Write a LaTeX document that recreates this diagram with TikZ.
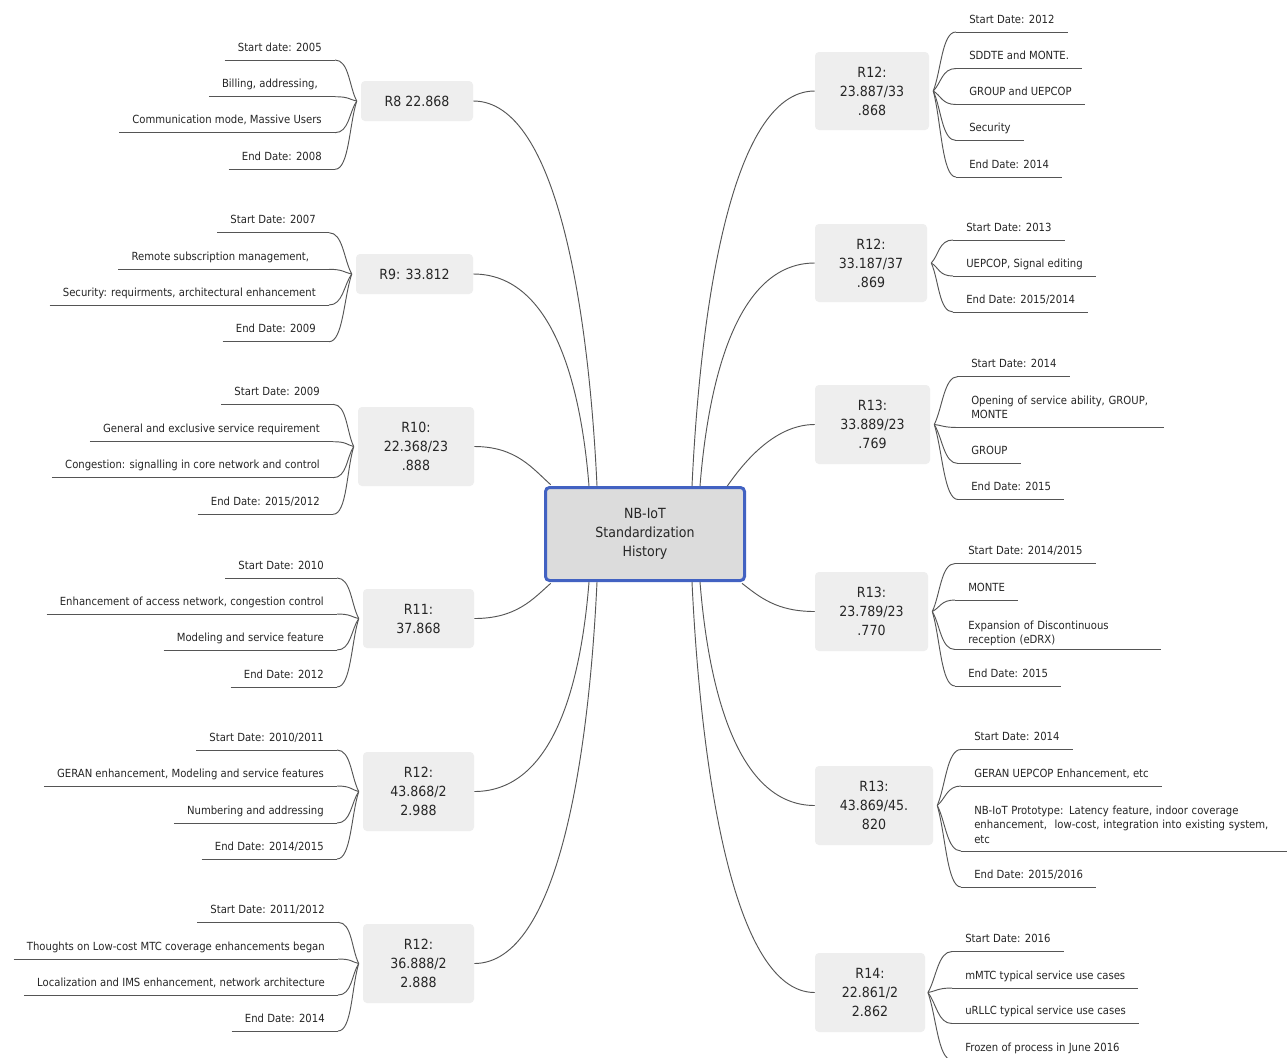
\documentclass[tikz,border=0pt]{standalone}
\usepackage{fontspec}
\setmainfont{DejaVu Sans}[FakeStretch=0.9]
\usetikzlibrary{calc}

\definecolor{hubfill}{HTML}{DCDCDC}
\definecolor{hubline}{HTML}{4262C2}
\definecolor{boxfill}{HTML}{EEEEEE}
\definecolor{ink}{HTML}{262626}
\definecolor{wirecol}{HTML}{555555}

\tikzset{
  hub/.style={draw=hubline, line width=2.25pt, fill=hubfill, rounded corners=3pt,
    minimum width=149.25pt, minimum height=69.75pt, inner sep=0pt, align=center,
    text=ink, font=\fontsize{10.5}{14.25}\selectfont},
  release/.style={fill=boxfill, rounded corners=3pt, inner sep=0pt, align=center,
    text=ink, font=\fontsize{10.5}{14.25}\selectfont},
  leaf/.style={inner xsep=9.75pt, inner ysep=0pt, text=ink,
    font=\fontsize{8.4}{10.9}\selectfont},
  wire/.style={draw=wirecol, line width=0.7pt},
  twig/.style={draw=wirecol, line width=0.7pt},
}

% leaf on the left: name, root, x of the underline's right end, y of the underline, text
\newcommand\leafL[5]{%
  \coordinate (#1e) at (#3,#4);
  \node[leaf, anchor=base east] (#1) at (#3,#4-9) {#5};
  \draw[twig] (#1.west |- #1e) -- (#1e);
  \draw[twig] (#2) .. controls ($(#2)!0.35!(#1e)$) and +(14,0) .. (#1e);
}
% leaf on the right: name, root, x of the underline's left end, y of the underline, text
\newcommand\leafR[5]{%
  \coordinate (#1e) at (#3,#4);
  \node[leaf, anchor=base west] (#1) at (#3,#4-9) {#5};
  \draw[twig] (#1e) -- (#1.east |- #1e);
  \draw[twig] (#2) .. controls ($(#2)!0.35!(#1e)$) and +(-14,0) .. (#1e);
}
% multi-line leaf on the right: name, root, x, y of underline, y of first baseline, width, text
\newcommand\leafRM[7]{%
  \coordinate (#1e) at (#3,#4);
  \node[leaf, anchor=base west, text width=#6, align=left] (#1) at (#3,#5) {#7};
  \draw[twig] (#1e) -- (#1.east |- #1e);
  \draw[twig] (#2) .. controls ($(#2)!0.35!(#1e)$) and +(-14,0) .. (#1e);
}

\begin{document}
\begin{tikzpicture}[x=0.75pt, y=-0.75pt]
\useasboundingbox (0,0) rectangle (1287,1057);
\fill[white] (0,0) rectangle (1287,1057);

% central topic
\node[hub] (hub) at (645,534) {NB-IoT\\Standardization\\History};

% releases, left column
\node[release, minimum width=84pt,    minimum height=30pt]    (r8)  at (417,101)   {R8 22.868};
\node[release, minimum width=87.75pt, minimum height=30pt]    (r9)  at (414.5,274) {R9: 33.812};
\node[release, minimum width=87pt,    minimum height=59.25pt] (r10) at (416,446.5) {R10:\\22.368/23\\.888};
\node[release, minimum width=83.25pt, minimum height=44.25pt] (r11) at (418.5,618.5) {R11:\\37.868};
\node[release, minimum width=83.25pt, minimum height=59.25pt] (r12a) at (418.5,791.5) {R12:\\43.868/2\\2.988};
\node[release, minimum width=83.25pt, minimum height=59.25pt] (r12b) at (418.5,963.5) {R12:\\36.888/2\\2.888};

% releases, right column
\node[release, minimum width=85.5pt,  minimum height=58.5pt]  (q1) at (872,91)    {R12:\\23.887/33\\.868};
\node[release, minimum width=84pt,    minimum height=58.5pt]  (q2) at (871,263)   {R12:\\33.187/37\\.869};
\node[release, minimum width=86.25pt, minimum height=59.25pt] (q3) at (872.5,424.5) {R13:\\33.889/23\\.769};
\node[release, minimum width=84.75pt, minimum height=59.25pt] (q4) at (871.5,611.5) {R13:\\23.789/23\\.770};
\node[release, minimum width=88.5pt,  minimum height=59.25pt] (q5) at (874,805.5)  {R13:\\43.869/45.\\820};
\node[release, minimum width=82.5pt,  minimum height=59.25pt] (q6) at (870,992.5)  {R14:\\22.861/2\\2.862};

% branches from the central topic
\draw[wire] (r8.east)   .. controls +(85,0)  and +(-8,-170) .. ([xshift=-36pt]hub.north);
\draw[wire] (r9.east)   .. controls +(80,0)  and +(-8,-100) .. ([xshift=-42pt]hub.north);
\draw[wire] (r10.east)  .. controls +(42,0)  and +(-18,-16)  .. ([xshift=5pt,yshift=1pt]hub.north west);
\draw[wire] (r11.east)  .. controls +(42,0)  and +(-18,16)   .. ([xshift=5pt,yshift=-1pt]hub.south west);
\draw[wire] (r12a.east) .. controls +(80,0)  and +(-8,100)  .. ([xshift=-42pt]hub.south);
\draw[wire] (r12b.east) .. controls +(85,0)  and +(-8,170)  .. ([xshift=-36pt]hub.south);
\draw[wire] (q1.west)   .. controls +(-85,0) and +(8,-170)  .. ([xshift=35.25pt]hub.north);
\draw[wire] (q2.west)   .. controls +(-80,0) and +(8,-100)  .. ([xshift=41.25pt]hub.north);
\draw[wire] (q3.west)   .. controls +(-42,0) and +(14,-20)  .. ([xshift=-14pt]hub.north east);
\draw[wire] (q4.west)   .. controls +(-38,0) and +(18,14)   .. ([xshift=-3pt,yshift=-1pt]hub.south east);
\draw[wire] (q5.west)   .. controls +(-80,0) and +(8,100)   .. ([xshift=41.25pt]hub.south);
\draw[wire] (q6.west)   .. controls +(-85,0) and +(8,170)   .. ([xshift=35.25pt]hub.south);

% roots of the leaf fans
\coordinate (k8)  at ([xshift=-3pt]r8.west);
\coordinate (k9)  at ([xshift=-3pt]r9.west);
\coordinate (k10) at ([xshift=-3pt]r10.west);
\coordinate (k11) at ([xshift=-3pt]r11.west);
\coordinate (k12a) at ([xshift=-3pt]r12a.west);
\coordinate (k12b) at ([xshift=-3pt]r12b.west);
\coordinate (j1) at ([xshift=3pt]q1.east);
\coordinate (j2) at ([xshift=3pt]q2.east);
\coordinate (j3) at ([xshift=3pt]q3.east);
\coordinate (j4) at ([xshift=3pt]q4.east);
\coordinate (j5) at ([xshift=3pt]q5.east);
\coordinate (j6) at ([xshift=2pt]q6.east);

% R8
\leafL{a1}{k8}{335}{60}{Start date: 2005}
\leafL{a2}{k8}{335}{96.7}{Billing, addressing,\hspace*{3pt}}
\leafL{a3}{k8}{335}{132.7}{Communication mode, Massive Users}
\leafL{a4}{k8}{335}{169.3}{End Date: 2008}
% R9
\leafL{b1}{k9}{329}{232.7}{Start Date: 2007}
\leafL{b2}{k9}{329}{269.3}{Remote subscription management,\hspace*{5pt}}
\leafL{b3}{k9}{329}{305}{Security: requirments, architectural enhancement}
\leafL{b4}{k9}{329}{341.7}{End Date: 2009}
% R10
\leafL{c1}{k10}{333}{404.3}{Start Date: 2009}
\leafL{c2}{k10}{333}{441.7}{General and exclusive service requirement}
\leafL{c3}{k10}{333}{477.7}{Congestion: signalling in core network and control}
\leafL{c4}{k10}{333}{514.3}{End Date: 2015/2012}
% R11
\leafL{d1}{k11}{337}{578}{Start Date: 2010}
\leafL{d2}{k11}{337}{614}{Enhancement of access network, congestion control}
\leafL{d3}{k11}{337}{650}{Modeling and service feature}
\leafL{d4}{k11}{337}{687}{End Date: 2012}
% R12 (43.868)
\leafL{e1}{k12a}{337}{750}{Start Date: 2010/2011}
\leafL{e2}{k12a}{337}{786}{GERAN enhancement, Modeling and service features}
\leafL{e3}{k12a}{337}{823}{Numbering and addressing}
\leafL{e4}{k12a}{337}{859}{End Date: 2014/2015}
% R12 (36.888)
\leafL{f1}{k12b}{338}{922.3}{Start Date: 2011/2012}
\leafL{f2}{k12b}{338}{959}{Thoughts on Low-cost MTC coverage enhancements began}
\leafL{f3}{k12b}{338}{995}{Localization and IMS enhancement, network architecture}
\leafL{f4}{k12b}{338}{1031}{End Date: 2014}

% R12 (23.887)
\leafR{g1}{j1}{956}{32}{Start Date: 2012}
\leafR{g2}{j1}{956}{68.5}{SDDTE and MONTE.}
\leafR{g3}{j1}{956}{104.5}{GROUP and UEPCOP}
\leafR{g4}{j1}{956}{140.5}{Security}
\leafR{g5}{j1}{956}{177}{End Date: 2014}
% R12 (33.187)
\leafR{h1}{j2}{953}{240}{Start Date: 2013}
\leafR{h2}{j2}{953}{276}{UEPCOP, Signal editing}
\leafR{h3}{j2}{953}{312}{End Date: 2015/2014}
% R13 (33.889)
\leafR{i1}{j3}{958}{376.5}{Start Date: 2014}
\leafRM{i2}{j3}{958}{427.5}{404}{134.25pt}{Opening of service ability, GROUP,\\MONTE}
\leafR{i3}{j3}{958}{463.5}{GROUP}
\leafR{i4}{j3}{958}{499.5}{End Date: 2015}
% R13 (23.789)
\leafR{m1}{j4}{955}{563.5}{Start Date: 2014/2015}
\leafR{m2}{j4}{955}{600}{MONTE}
\leafRM{m3}{j4}{955}{649.5}{629}{134.25pt}{Expansion of Discontinuous\\reception (eDRX)}
\leafR{m4}{j4}{955}{686}{End Date: 2015}
% R13 (43.869)
\leafR{n1}{j5}{961}{749.5}{Start Date: 2014}
\leafR{n2}{j5}{961}{786}{GERAN UEPCOP Enhancement, etc}
\leafRM{n3}{j5}{961}{851}{814}{240pt}{NB-IoT Prototype: Latency feature, indoor coverage\\enhancement,\ \ low-cost, integration into existing system,\\etc}
\leafR{n4}{j5}{961}{887}{End Date: 2015/2016}
% R14
\leafR{p1}{j6}{952}{951.5}{Start Date: 2016}
\leafR{p2}{j6}{952}{988}{mMTC typical service use cases}
\leafR{p3}{j6}{952}{1023.5}{uRLLC typical service use cases}
\leafR{p4}{j6}{952}{1060}{Frozen of process in June 2016}
\end{tikzpicture}
\end{document}
